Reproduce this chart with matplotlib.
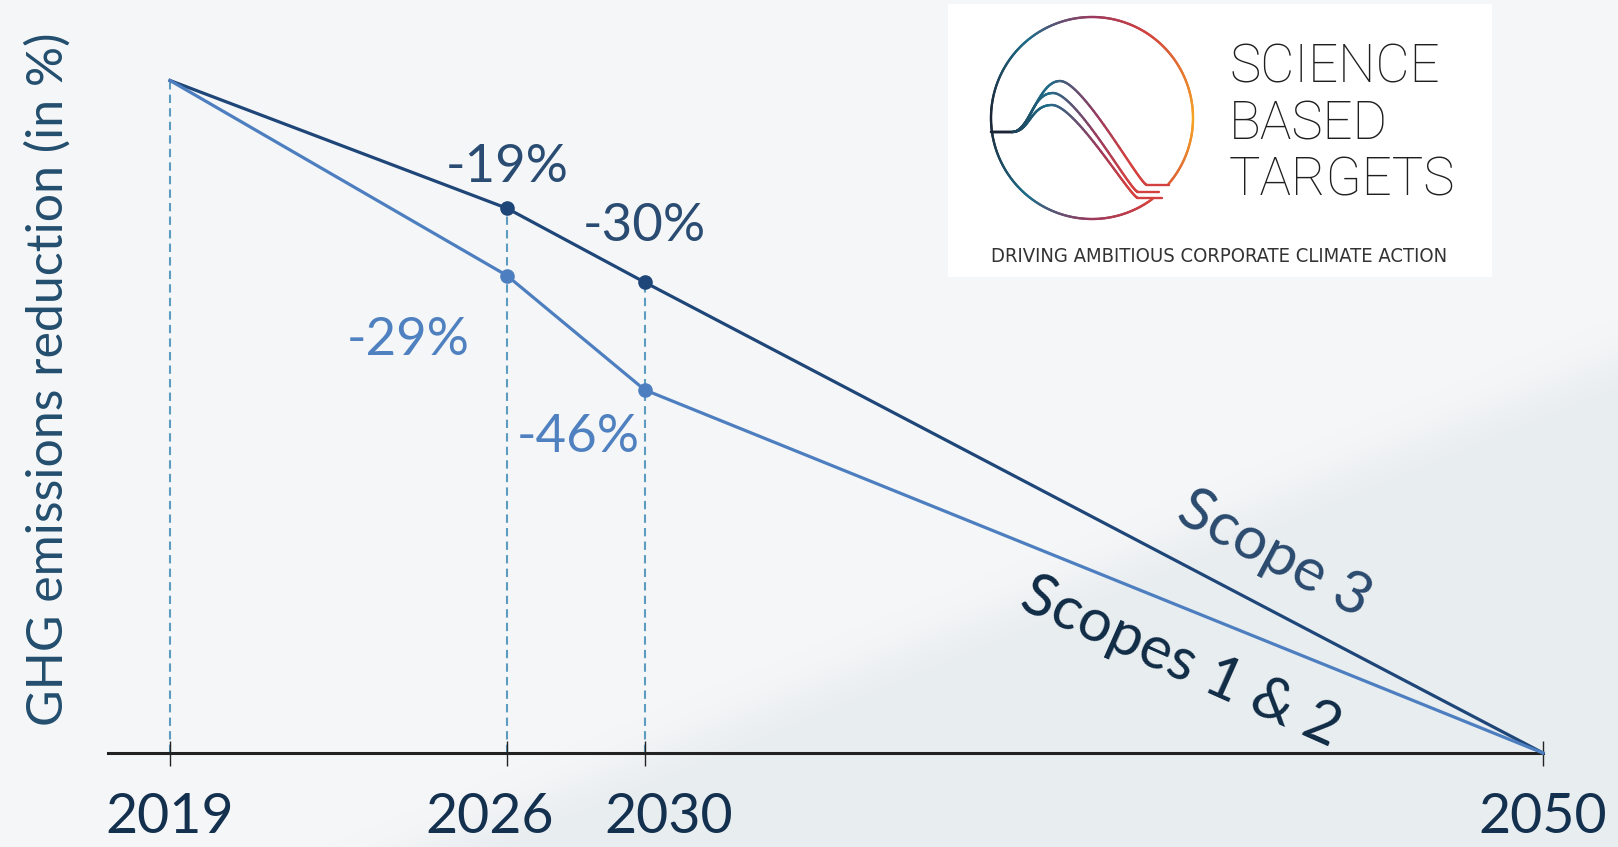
import numpy as np
import matplotlib.pyplot as plt
from matplotlib import font_manager as fm
from matplotlib.collections import LineCollection
from matplotlib.colors import LinearSegmentedColormap, to_rgb
from matplotlib.transforms import ScaledTranslation

# emission pathways, % change vs. the 2019 baseline
years = [2019, 2026, 2030, 2050]
year_labels = ['2019', '2026', '2030', '2050']
scope3 = [0, -19, -30, -100]
scope12 = [0, -29, -46, -100]
marked_years = [2026, 2030]

# where each tick year sits along the x axis (fraction of axis length)
TICK_FRAC = [0.0432, 0.278, 0.374, 1.0]
# sideways nudge of the year labels (points) so 2026/2030 don't crowd
LABEL_NUDGE = [0, -12.5, 17, 0]

DARK = '#1f4678'
LIGHT = '#4d7fc0'
DASH = '#5b9cc0'

plt.rcParams['font.family'] = ['Lato', 'DejaVu Sans']

W, H = 1618, 847
fig = plt.figure(figsize=(W / 100, H / 100), dpi=100)

# soft grey background with a bluish diagonal band at the lower right
bg = fig.add_axes([0, 0, 1, 1], zorder=-10)
yy, xx = np.mgrid[0:H, 0:W]
x1, y1, x2, y2 = 426, 847, 1618, 359
dist = ((xx - x1) * (y2 - y1) - (yy - y1) * (x2 - x1)) / np.hypot(x2 - x1, y2 - y1)
t = np.clip(-dist / 80 + 0.5, 0, 1)
t = t * t * (3 - 2 * t)
c_top = np.array(to_rgb('#f5f6f7'))
c_low = np.array(to_rgb('#e8edf0'))
img = c_top[None, None, :] * (1 - t[..., None]) + c_low[None, None, :] * t[..., None]
bg.imshow(img, extent=(0, W, H, 0), aspect='auto', interpolation='bilinear')
bg.set_xlim(0, W)
bg.set_ylim(H, 0)
bg.axis('off')

# uneven year spacing on the x axis
slope0 = (TICK_FRAC[1] - TICK_FRAC[0]) / (years[1] - years[0])
x_start = years[0] - TICK_FRAC[0] / slope0
anchor_years = [x_start] + years
anchor_frac = [0.0] + TICK_FRAC


def fwd(x):
    return np.interp(x, anchor_years, anchor_frac)


def inv(u):
    return np.interp(u, anchor_frac, anchor_years)


ax = fig.add_axes([108 / W, 94 / H, 1435 / W, 672.5 / H])
ax.set_facecolor('none')
ax.set_xscale('function', functions=(fwd, inv))
ax.set_xlim(x_start, years[-1])
ax.set_ylim(-100, 0)

s3 = dict(zip(years, scope3))
s12 = dict(zip(years, scope12))

# dashed guides from the upper point down to the axis
guide_years = years[:-1]
ax.vlines(guide_years, -100, [max(s3[y], s12[y]) for y in guide_years],
          colors=DASH, linestyles=(0, (4, 2.5)), lw=1.5, zorder=1)

ax.plot(years, scope3, color=DARK, lw=2.3, clip_on=False, zorder=3)
ax.plot(years, scope12, color=LIGHT, lw=2.3, clip_on=False, zorder=3)
ax.plot(marked_years, [s3[y] for y in marked_years], 'o', color=DARK,
        ms=9.5, clip_on=False, zorder=4)
ax.plot(marked_years, [s12[y] for y in marked_years], 'o', color=LIGHT,
        ms=9.5, clip_on=False, zorder=4)

# value labels
lab_kw = dict(textcoords='offset points', ha='center', va='center', fontsize=38)
ax.annotate(f'{s3[2026]}%', (2026, s3[2026]), xytext=(0, 29), color='#2a4c72', **lab_kw)
ax.annotate(f'{s3[2030]}%', (2030, s3[2030]), xytext=(0, 40), color='#2a4c72', **lab_kw)
ax.annotate(f'{s12[2026]}%', (2026, s12[2026]), xytext=(-71, -47), color='#4f81c0', **lab_kw)
ax.annotate(f'{s12[2030]}%', (2030, s12[2030]), xytext=(-48, -34), color='#4f81c0', **lab_kw)

for side in ['left', 'top', 'right']:
    ax.spines[side].set_visible(False)
ax.spines['bottom'].set_color('#222222')
ax.spines['bottom'].set_linewidth(2.2)
ax.set_yticks([])
ax.set_xticks(years, year_labels)
ax.minorticks_off()
ax.tick_params(axis='x', direction='inout', length=18, width=1, color='#222222',
               pad=19, labelsize=40, labelcolor='#14304f')
for lab, dx in zip(ax.get_xticklabels(), LABEL_NUDGE):
    lab.set_transform(lab.get_transform() + ScaledTranslation(dx / 72, 0, fig.dpi_scale_trans))

fig.text(48 / W, 1 - 379 / H, 'GHG emissions reduction (in %)', rotation=90,
         ha='center', va='center', fontsize=36, color='#234e6e')

fig.text(1274 / W, 1 - 554 / H, 'Scope 3', rotation=-28, rotation_mode='anchor',
         ha='center', va='center', fontsize=43, color='#2a4a6e')
fig.text(1181 / W, 1 - 662 / H, 'Scopes 1 & 2', rotation=-24, rotation_mode='anchor',
         ha='center', va='center', fontsize=43, color='#102b45')

# SBTi logo box
logo = fig.add_axes([948 / W, 1 - 277 / H, 544 / W, 273 / H])
logo.set_xlim(0, 544)
logo.set_ylim(273, 0)
logo.set_facecolor('white')
logo.set_xticks([])
logo.set_yticks([])
for s in logo.spines.values():
    s.set_visible(False)

ring = LinearSegmentedColormap.from_list(
    'ring', [(0, '#1b2535'), (0.28, '#1f6d8a'), (0.5, '#9c3a5e'),
             (0.68, '#d2403f'), (1.0, '#f5a524')])


def gradient_line(xs, ys, vals, lw=1.7):
    pts = np.column_stack([xs, ys])
    segs = np.stack([pts[:-1], pts[1:]], axis=1)
    lc = LineCollection(segs, colors=ring(vals[:-1]), lw=lw, capstyle='round')
    logo.add_collection(lc)


def bezier(p0, p1, p2, p3, n=80):
    s = np.linspace(0, 1, n)[:, None]
    p = [np.array(q, float) for q in (p0, p1, p2, p3)]
    return ((1 - s) ** 3 * p[0] + 3 * (1 - s) ** 2 * s * p[1]
            + 3 * (1 - s) * s ** 2 * p[2] + s ** 3 * p[3])


cx, cy, r = 144, 114, 101
th = np.linspace(-41, 307, 500)
gradient_line(cx + r * np.cos(np.radians(th)), cy - r * np.sin(np.radians(th)),
              np.abs((th % 360) - 180) / 180)

# three waves: rise to a peak, fall away to the notch at the lower right
waves = [((112, 77), (199, 181), (221, 181)),
         ((105, 89), (190, 188), (211, 188)),
         ((104, 101), (190, 194), (214, 194))]
for (px, py), (ex, ey), (tx, ty) in waves:
    rise = bezier((64, 128), (82, 128), (px - 22, py), (px, py))
    fall = bezier((px, py), (px + 23, py), (ex - 7, ey), (ex, ey))
    pts = np.vstack([[cx - r, 128], rise, fall, [tx, ty]])
    vals = np.interp(pts[:, 0], [cx - r, 100, 150, 180], [0, 0.28, 0.5, 0.68])
    gradient_line(pts[:, 0], pts[:, 1], vals)

for txt, yb in [('SCIENCE', 79), ('BASED', 136), ('TARGETS', 191)]:
    logo.text(281, yb, txt, fontsize=38, family=['Roboto', 'DejaVu Sans'],
              fontweight='light', color='#1f1f1f', ha='left', va='baseline')

# tagline in a narrow face if one is around
tag_font = None
for f in fm.fontManager.ttflist:
    if f.stretch in ('condensed', 'semi-condensed') and f.style == 'normal' \
            and f.weight in (400, 'normal', 'regular'):
        tag_font = fm.FontProperties(fname=f.fname)
        break
if tag_font is None:
    names = {f.name for f in fm.fontManager.ttflist}
    tag_font = fm.FontProperties(family='Liberation Sans Narrow' if 'Liberation Sans Narrow' in names else 'Roboto')
tag_font.set_size(17)
tag = logo.text(271.5, 258, 'DRIVING AMBITIOUS CORPORATE CLIMATE ACTION',
                fontproperties=tag_font, color='#333333', ha='center', va='baseline')
fig.canvas.draw()
tw = tag.get_window_extent().width
if tw > 459:
    tag.set_fontsize(17 * 459 / tw)

fig.savefig('out.png', dpi=100)
